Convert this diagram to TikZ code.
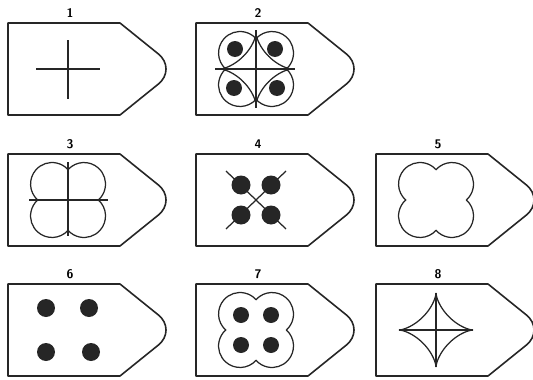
\documentclass[tikz,border=0pt]{standalone}
\begin{document}
\begin{tikzpicture}[
  x=1pt, y=-1pt,
  % contours and figures
  panel/.style={line width=1.6pt, black!85, line join=round},
  figline/.style={line width=1.25pt, black!85},
  blob/.style={fill=black!85},
  num/.style={font=\sffamily\bfseries\fontsize{12.5}{12.5}\selectfont, inner sep=0pt},
  % four-lobed outline and star curve
  clover/.pic={\draw[figline] (0:30.4) \foreach \q in {0,...,3} {arc[start angle=\q*90-48, delta angle=186, radius=21.5]} -- cycle;},
  astroid/.pic={\draw[figline] plot[domain=0:360, samples=145] ({37*cos(\x)*cos(\x)*cos(\x)}, {37*sin(\x)*sin(\x)*sin(\x)}) -- cycle;}
]
\useasboundingbox (0,0) rectangle (533,380);

% tag-shaped panels: number/left/top
\foreach \n/\l/\t in {1/8/23, 2/196/23, 3/8/154, 4/196/154, 5/376/154, 6/8/284, 7/196/284, 8/376/284} {
  \draw[panel] (\l,\t) -- (\l+112,\t) -- (\l+150.3,\t+30.9)
    .. controls (\l+160.6,\t+39.2) and (\l+160.6,\t+52.8) .. (\l+150.3,\t+61.1)
    -- (\l+112,\t+92) -- (\l,\t+92) -- cycle;
  \node[num] (lab\n) at (\l+62,\t-10) {\n};
  \coordinate (f\n) at (\l+60,\t+46);
}

% 1
\begin{scope}[shift={(f1)}]
  \draw[figline] (-32,0) -- (32,0) (0,-29) -- (0,30);
\end{scope}

% 2
\begin{scope}[shift={(f2)}]
  \draw[figline] (-41,0) -- (39,0) (0,-39) -- (0,39);
  \pic {clover};
  \pic[scale=0.97] {astroid};
  \foreach \sx/\sy in {-21/-20, 19/-20, -22/19, 21/19}
    \fill[blob] (\sx,\sy) circle[radius=8];
\end{scope}

% 3
\begin{scope}[shift={(f3)}]
  \draw[figline] (-39,0) -- (40,0) (0,-38) -- (0,36);
  \pic {clover};
\end{scope}

% 4
\begin{scope}[shift={(f4)}]
  \draw[figline] (-30,-29) -- (30,29) (30,-29) -- (-30,29);
  \foreach \sx/\sy in {-15/-15, 15/-15, -15/15, 15/15}
    \fill[blob] (\sx,\sy) circle[radius=9.5];
\end{scope}

% 5
\pic at (f5) {clover};

% 6
\begin{scope}[shift={(f6)}]
  \foreach \sx/\sy in {-22/-22, 21/-22, -22/22, 23/22}
    \fill[blob] (\sx,\sy) circle[radius=9];
\end{scope}

% 7
\begin{scope}[shift={(f7)}]
  \pic {clover};
  \foreach \sx/\sy in {-15/-15, 15/-15, -15/15, 15/15}
    \fill[blob] (\sx,\sy) circle[radius=8];
\end{scope}

% 8
\begin{scope}[shift={(f8)}]
  \pic {astroid};
  \draw[figline] (-37,0) -- (37,0) (0,-37) -- (0,37);
\end{scope}

\end{tikzpicture}
\end{document}
